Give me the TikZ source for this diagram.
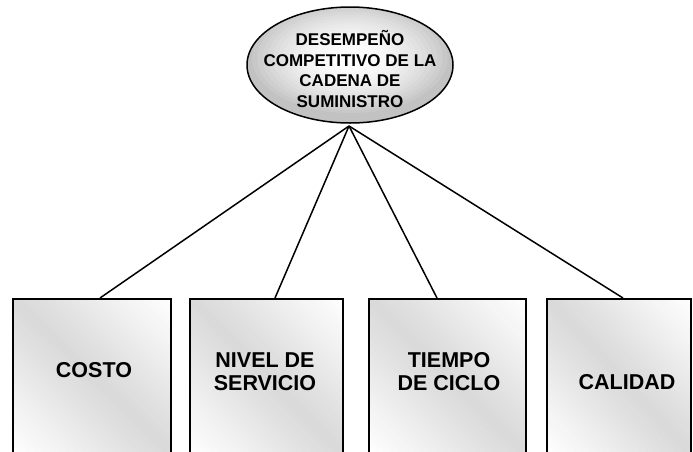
\documentclass[tikz,border=0pt]{standalone}
\usepackage{fontspec}
\setmainfont{Liberation Sans}
\usetikzlibrary{shapes.geometric}
% diagonal gradient: white at bottom-left and top-right, gray along the TL-BR diagonal
\newcommand\gradfill[4]{% x0, y0, w, h
  \begin{scope}[shift={(#1,#2)}, x=#3pt, y=-#4pt]
    \clip (0,0) rectangle (1,1);
    \foreach \k in {0,...,39}{
      \pgfmathsetmacro\ga{-1+\k*0.05}
      \pgfmathsetmacro\gb{\ga+0.06}
      \pgfmathsetmacro\gp{30*(1-abs(\ga+0.025))}
      \fill[gray!\gp!white] (\ga,0) -- (\gb,0) -- (\gb+1,1) -- (\ga+1,1) -- cycle;
    }
  \end{scope}}
\begin{document}
\begin{tikzpicture}[x=1pt,y=-1pt,
  boxst/.style={draw=black, line width=2pt, anchor=north, inner sep=0pt},
  boxtxt/.style={font=\bfseries\fontsize{21.5}{23}\selectfont, align=center, inner sep=0pt},
  topst/.style={ellipse, draw=black, line width=1.5pt, inner sep=0pt},
  toptxt/.style={font=\bfseries\fontsize{17}{20.7}\selectfont, align=center, inner sep=0pt},
  link/.style={draw=black, line width=1.5pt}]
\useasboundingbox (0,0) rectangle (693,451);
\clip (0,0) rectangle (693,451);
% ellipse fill (radial gradient)
\begin{scope}
  \clip (350,65) ellipse [x radius=103, y radius=58];
  \foreach \k in {0,...,24}{
    \pgfmathsetmacro\er{1.25-\k*0.05}
    \pgfmathsetmacro\ep{min(48,48*\er*\er)}
    \fill[gray!\ep!white] (350,58) ellipse [x radius=103*\er, y radius=58*\er];
  }
\end{scope}
% box fills
\gradfill{13}{298}{158}{155}
\gradfill{190}{298}{153}{155}
\gradfill{369}{298}{157}{155}
\gradfill{547}{298}{144}{155}
% top ellipse
\node[topst, minimum width=206pt, minimum height=116pt] (top) at (350,65) {};
\node[toptxt] (toptext) at (350,69) {DESEMPEÑO\\COMPETITIVO DE LA\\CADENA DE\\SUMINISTRO};
\coordinate (apex) at (349,126);
% boxes
\node[boxst, minimum width=158pt, minimum height=160pt] (b1) at (92,298) {};
\node[boxst, minimum width=153pt, minimum height=160pt] (b2) at (266.5,298) {};
\node[boxst, minimum width=157pt, minimum height=160pt] (b3) at (447.5,298) {};
\node[boxst, minimum width=144pt, minimum height=160pt] (b4) at (619,298) {};
\node[boxtxt] (t1) at (94,370) {COSTO};
\node[boxtxt] (t2) at (265,372) {NIVEL DE\\SERVICIO};
\node[boxtxt] (t3) at (449,372) {TIEMPO\\DE CICLO};
\node[boxtxt] (t4) at (627,382) {CALIDAD};
% connectors
\draw[link] (apex) -- ([xshift=8pt]b1.north);
\draw[link] (apex) -- ([xshift=8.5pt]b2.north);
\draw[link] (apex) -- ([xshift=-10.5pt]b3.north);
\draw[link] (apex) -- ([xshift=4pt]b4.north);
\end{tikzpicture}
\end{document}
